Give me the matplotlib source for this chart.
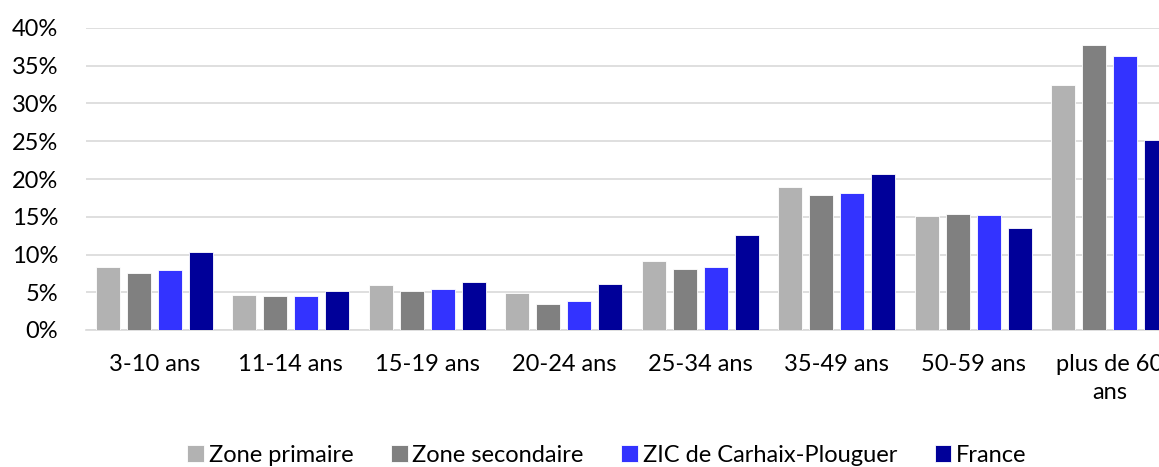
import matplotlib.pyplot as plt
import numpy as np
from matplotlib.ticker import PercentFormatter

# age groups and shares (%)
categories = ['3-10 ans', '11-14 ans', '15-19 ans', '20-24 ans',
              '25-34 ans', '35-49 ans', '50-59 ans', 'plus de 60\nans']
zone_primaire = [8.4, 4.6, 5.9, 4.9, 9.2, 18.9, 15.1, 32.5]
zone_secondaire = [7.6, 4.5, 5.2, 3.4, 8.1, 17.9, 15.3, 37.7]
zic = [7.9, 4.5, 5.4, 3.8, 8.4, 18.2, 15.2, 36.3]
france = [10.3, 5.1, 6.3, 6.1, 12.6, 20.7, 13.5, 25.2]

series = [('Zone primaire', zone_primaire, '#B2B2B2'),
          ('Zone secondaire', zone_secondaire, '#808080'),
          ('ZIC de Carhaix-Plouguer', zic, '#3333FF'),
          ('France', france, '#000099')]

plt.rcParams['font.family'] = ['Lato', 'DejaVu Sans']

W, H = 1159, 467
fig = plt.figure(figsize=(W / 100, H / 100), dpi=100)
# axes extends past the right edge (the original chart is cropped)
ax = fig.add_axes([86 / W, 1 - 330 / H, (8 * 136.5) / W, (330 - 28) / H])

x = np.arange(len(categories))
pitch = 0.227
width = 0.176
for i, (name, vals, col) in enumerate(series):
    ax.bar(x + (i - 1.5) * pitch, vals, width, color=col, label=name,
           edgecolor='white', linewidth=0.6, zorder=3)

ax.set_xlim(-0.5, len(categories) - 0.5)
ax.set_ylim(0, 40)
ax.set_yticks(np.arange(0, 41, 5))
ax.yaxis.set_major_formatter(PercentFormatter(decimals=0))
ax.set_xticks(x)
ax.set_xticklabels(categories, fontsize=17, linespacing=1.45)
ax.tick_params(axis='y', labelsize=17, length=0, pad=20)
ax.tick_params(axis='x', length=0, pad=17)
ax.grid(axis='y', color='#D9D9D9', linewidth=1.2, zorder=0)
for s in ['top', 'right', 'left']:
    ax.spines[s].set_visible(False)
ax.spines['bottom'].set_color('#D9D9D9')
ax.spines['bottom'].set_linewidth(1.2)

fig.legend(loc='center', bbox_to_anchor=(607 / W, 1 - 455 / H), ncol=4,
           frameon=False, fontsize=17, handlelength=0.7, handleheight=0.7,
           handletextpad=0.2, columnspacing=1.6)

fig.savefig('out.png', dpi=100)
